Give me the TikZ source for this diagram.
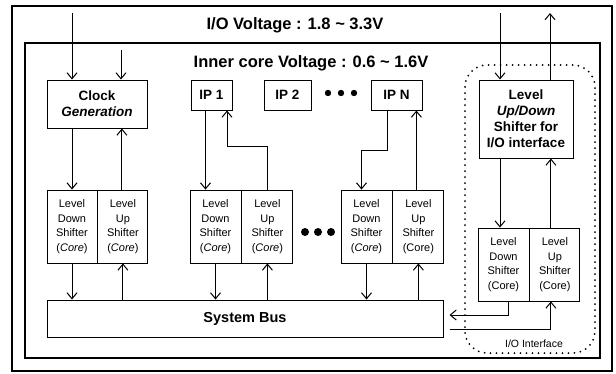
\documentclass[tikz,border=0pt]{standalone}
\usepackage{fontspec}
\setmainfont{Liberation Sans}
\usetikzlibrary{arrows.meta, positioning}

\begin{document}
\begin{tikzpicture}[x=1pt, y=-1pt,
  blk/.style={draw, line width=1pt, inner sep=1pt, align=center,
              font=\fontsize{13.5}{16}\selectfont\bfseries},
  cell/.style={draw, line width=0.9pt, minimum width=51pt, minimum height=73pt,
               inner sep=0pt, align=center, font=\fontsize{11}{14.5}\selectfont},
  arr/.style={-{Straight Barb[length=6pt,width=10pt]}, line width=1pt},
  ttl/.style={font=\fontsize{16.5}{18}\selectfont\bfseries}
]
  \useasboundingbox (0,0) rectangle (616,373);

  % frames
  \draw[line width=1.1pt] (12,6) rectangle (612,371);
  \draw[line width=1.1pt] (25,43) rectangle (600,358);
  \draw[line width=2pt, dash pattern=on 0pt off 6pt, line cap=round,
        rounded corners=22pt] (465,65) rectangle (595,353);

  \node[ttl] (iov)  at (295,25) {I/O Voltage : 1.8 \textasciitilde{} 3.3V};
  \node[ttl] (corev) at (311,63) {Inner core Voltage : 0.6 \textasciitilde{} 1.6V};

  % blocks
  \node[blk, minimum width=100pt, minimum height=48pt] (clk) at (97,104)
       {Clock\\\itshape Generation};
  \node[blk, minimum width=41pt, minimum height=30pt] (ip1) at (211.5,95) {IP 1};
  \node[blk, minimum width=47pt, minimum height=30pt] (ip2) at (287.5,95) {IP 2};
  \node[blk, minimum width=51pt, minimum height=30pt] (ipn) at (396.5,95) {IP N};
  \node[blk, minimum width=94pt, minimum height=78pt] (iobox) at (526,119)
       {Level\\\itshape Up/Down\\Shifter for\\I/O interface};
  \foreach \x in {328,341,354} \fill (\x,93) circle (3.2pt);

  % shifters
  \node[cell, minimum width=50pt] (d1) at (72,226.5) {Level\\Down\\Shifter\\(\textit{Core})};
  \node[cell, minimum width=50pt, right=0pt of d1] (u1) {Level\\Up\\Shifter\\(\textit{Core})};
  \node[cell] (d2) at (215.5,226.5) {Level\\Down\\Shifter\\(\textit{Core})};
  \node[cell, right=0pt of d2] (u2) {Level\\Up\\Shifter\\(\textit{Core})};
  \node[cell] (d3) at (366.5,226.5) {Level\\Down\\Shifter\\(\textit{Core})};
  \node[cell, right=0pt of d3] (u3) {Level\\Up\\Shifter\\(Core)};
  \node[cell] (d4) at (503.5,264.5) {Level\\Down\\Shifter\\(Core)};
  \node[cell, minimum width=50pt, right=0pt of d4] (u4) {Level\\Up\\Shifter\\(Core)};
  \foreach \x in {305,318,331} \fill (\x,232) circle (4pt);

  \node[blk, minimum width=396pt, minimum height=37pt,
        font=\fontsize{14.5}{16}\selectfont\bfseries] (bus) at (245,318.5) {System Bus};
  \node[font=\fontsize{10.5}{12}\selectfont] (iolbl) at (534,344) {I/O Interface};

  % pads
  \coordinate (clkin) at (72,13);
  \coordinate (clkin2) at (121,50);
  \coordinate (ioin) at (500,13);
  \coordinate (ioout) at (550,13);

  \draw[arr] (clkin) -- (clkin |- clk.north);
  \draw[arr] (clkin2) -- (clkin2 |- clk.north);
  \draw[arr] (ioin) -- (ioin |- iobox.north);
  \draw[arr] (iobox.north -| ioout) -- (ioout);

  % blocks to shifters
  \draw[arr] (clk.south -| d1) -- (d1.north);
  \draw[arr] ([xshift=-1pt]u1.north) -- ([xshift=-1pt]u1.north |- clk.south);
  \draw[arr] ([xshift=-6pt]ip1.south) -- ([xshift=-6pt]ip1.south |- d2.north);
  \draw[arr] (u2.north) -- ++(0,-43) -| ([xshift=15.5pt]ip1.south);
  \draw[arr] ([xshift=-9.5pt]ipn.south) -- ++(0,40) -| ([xshift=-5pt]d3.north);
  \draw[arr] ([xshift=-2pt]u3.north) -- ([xshift=-2pt]u3.north |- ipn.south);
  \draw[arr] ([xshift=-3.5pt]d4.north |- iobox.south) -- ([xshift=-3.5pt]d4.north);
  \draw[arr] ([xshift=-4pt]u4.north) -- ([xshift=-4pt]u4.north |- iobox.south);

  % shifters to bus
  \draw[arr] (d1.south) -- (d1.south |- bus.north);
  \draw[arr] (bus.north -| u1) -- (u1.south);
  \draw[arr] (d2.south) -- (d2.south |- bus.north);
  \draw[arr] (bus.north -| u2) -- (u2.south);
  \draw[arr] (d3.south) -- (d3.south |- bus.north);
  \draw[arr] (bus.north -| u3) -- (u3.south);
  \draw[arr] ([xshift=4.5pt]d4.south) |- ([xshift=6pt,yshift=3.5pt]bus.east);
  \draw[arr] ([xshift=6pt,yshift=-10.5pt]bus.east) -| ([xshift=-4pt]u4.south);
\end{tikzpicture}
\end{document}
